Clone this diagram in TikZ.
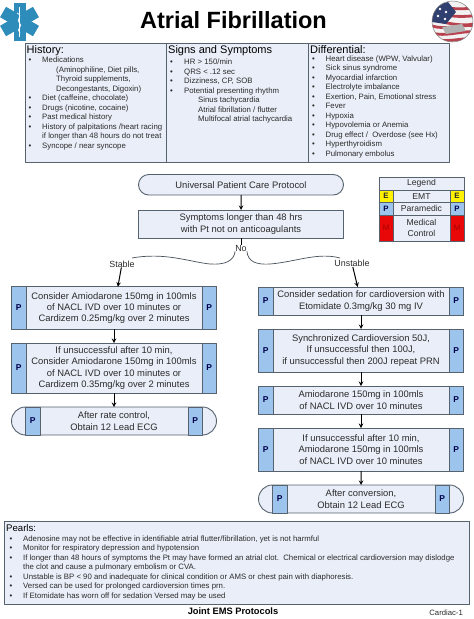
\documentclass[tikz,border=0pt]{standalone}
\usepackage{fontspec}
\setmainfont{Liberation Sans}
\usetikzlibrary{shapes.misc}
\definecolor{panelfill}{HTML}{E9EEF8}
\definecolor{pblue}{HTML}{9CC4EC}
\definecolor{edgegray}{HTML}{56626E}
\definecolor{starblue}{HTML}{2E8CBB}
\definecolor{medred}{HTML}{E80808}
\definecolor{textgray}{HTML}{2B2B2B}
\definecolor{badgered}{HTML}{B8424E}
\definecolor{badgeblue}{HTML}{2F3F70}
\newcommand{\stepfont}{\fontsize{9.4}{11.3}\selectfont}
\newcommand{\listfont}{\fontsize{7.8}{9.5}\selectfont}
\tikzset{
	stepbox/.style={draw=edgegray,line width=0.9pt,fill=panelfill,rectangle,inner sep=0pt,outer sep=0pt,align=center,font=\stepfont,text=textgray,minimum width=205pt},
	capbox/.style={stepbox,rounded rectangle},
	sidecol/.style={draw=edgegray,line width=0.9pt,fill=pblue,inner sep=0pt,outer sep=0pt,minimum width=14.5pt,font=\fontsize{8.5}{10}\selectfont\bfseries,text=black!70!blue},
	panel/.style={draw=edgegray,line width=1pt,fill=panelfill,inner sep=0pt,outer sep=0pt,anchor=north west},
	head/.style={anchor=base west,yshift=-3.4pt,inner sep=0pt,font=\fontsize{11}{12}\selectfont},
	entry/.style={anchor=base west,yshift=-2.7pt,inner sep=0pt,font=\listfont,text=textgray},
	tag/.style={inner sep=0pt,font=\fontsize{8.9}{10}\selectfont,text=textgray},
	legcell/.style={draw=edgegray,line width=0.9pt,inner sep=0pt,outer sep=0pt,anchor=north west,align=center,font=\fontsize{8.6}{11.5}\selectfont,text=textgray},
	legmark/.style={legcell,minimum width=14pt,font=\fontsize{7.8}{9}\selectfont\bfseries},
	flow/.style={->,>=stealth,line width=1pt,black},
	wave/.style={line width=0.7pt,edgegray!80!black},
}
\begin{document}
\begin{tikzpicture}[x=1pt,y=-1pt,line join=round]
\useasboundingbox (0,0) rectangle (474,619);
% star and badge
\foreach \a in {0,60,120}
	\fill[starblue,rotate around={\a:(19.5,21.5)}] (13.5,2.5) rectangle (25.5,40.5);
\draw[white,line width=0.9pt] (19.5,7) -- (19.5,37);
\draw[white,line width=0.7pt] (17,13) .. controls (24,16) and (15,20) .. (19.5,23) .. controls (24,26) and (15,29) .. (20,33);
\begin{scope}
	\clip (452.5,21.5) circle (20.5);
	\fill[white!90!gray] (432,1) rectangle (474,42);
	\foreach \y/\c in {5/18,12/22,19/30,26/-4,33/-8,39/-3}
		\draw[badgered,line width=2.8pt] (432,\y) .. controls (445,\y+4) and (460,\y+\c/4) .. (474,\y+\c/6);
	\fill[badgeblue] (434,6) -- (448,2) -- (456,12) -- (446,24) -- (432,22) -- cycle;
	\fill[white] (440,9) circle (1.3) (446,12) circle (1.3) (438,16) circle (1.3) (445,19) circle (1.3);
	\fill[gray!60] (442,27) -- (462,24) -- (466,31) -- (446,34) -- cycle;
\end{scope}
\draw[gray,line width=0.5pt] (452.5,21.5) circle (20.5);
\node[inner sep=0pt,font=\fontsize{23.5}{26}\selectfont\bfseries] (title) at (233.5,20.5) {Atrial Fibrillation};
% top panels
\node[panel,minimum width=141.5pt,minimum height=119pt] (hist) at (25,43) {};
\node[panel,minimum width=141.5pt,minimum height=119pt] (sign) at (166.5,43) {};
\node[panel,minimum width=141pt,minimum height=119pt] (diff) at (308,43) {};
\node[head] (histh) at (26.5,50.5) {History:};
\node[head] (signh) at (168,50.5) {Signs and Symptoms};
\node[head] (diffh) at (310,50.5) {Differential:};
\foreach \y/\x/\t/\b in {
	60/42/{Medications}/1,
	69.5/56/{(Aminophiline, Diet pills,}/0,
	79/56/{Thyroid supplements,}/0,
	88.5/56/{Decongestants, Digoxin)}/0,
	98/42/{Diet (caffeine, chocolate)}/1,
	107.5/42/{Drugs (nicotine, cocaine)}/1,
	117/42/{Past medical history}/1,
	126.5/42/{History of palpitations /heart racing}/1,
	136/42/{if longer than 48 hours do not treat}/0,
	145.5/42/{Syncope / near syncope}/1}{
	\node[entry] at (\x,\y) {\t};
	\ifnum\b=1 \node[entry] at (28.5,\y) {\textbullet};\fi
}
\foreach \y/\x/\t/\b in {
	62/184/{HR > 150/min}/1,
	71.5/184/{QRS < .12 sec}/1,
	81/184/{Dizziness, CP, SOB}/1,
	90.5/184/{Potential presenting rhythm}/1,
	100/198/{Sinus tachycardia}/0,
	109.5/198/{Atrial fibrillation / flutter}/0,
	119/198/{Multifocal atrial tachycardia}/0}{
	\node[entry] at (\x,\y) {\t};
	\ifnum\b=1 \node[entry] at (170,\y) {\textbullet};\fi
}
\foreach \y/\t in {
	58.5/{Heart disease (WPW, Valvular)},
	68/{Sick sinus syndrome},
	77.5/{Myocardial infarction},
	87/{Electrolyte imbalance},
	96.5/{Exertion, Pain, Emotional stress},
	106/{Fever},
	115.5/{Hypoxia},
	125/{Hypovolemia or Anemia},
	134.5/{Drug effect /\ \ Overdose (see Hx)},
	144/{Hyperthyroidism},
	153.5/{Pulmonary embolus}}{
	\node[entry] at (325.5,\y) {\t};
	\node[entry] at (312,\y) {\textbullet};
}
% legend
\node[legcell,fill=panelfill,minimum width=85pt,minimum height=13pt] (legend) at (379,177) {Legend};
\node[legcell,fill=panelfill,minimum width=85pt,minimum height=12.5pt] (emt) at (379,190) {EMT};
\node[legcell,fill=panelfill,minimum width=85pt,minimum height=12.5pt] (para) at (379,202.5) {Paramedic};
\node[legcell,fill=panelfill,minimum width=85pt,minimum height=26pt] (medc) at (379,215) {Medical\\Control};
\foreach \x/\s in {379/a,450/b}{
	\node[legmark,fill=yellow,minimum height=12.5pt] (emt-\s) at (\x,190) {E};
	\node[legmark,fill=pblue,minimum height=12.5pt,text=black!70!blue] (para-\s) at (\x,202.5) {P};
	\node[legmark,fill=medred,minimum height=26pt,font=\fontsize{7.8}{9}\selectfont,text=red!65!black] (medc-\s) at (\x,215) {M};
}
% flow top
\node[capbox,minimum height=20.5pt] (upcp) at (241,184.75) {Universal Patient Care Protocol};
\node[stepbox,minimum height=28pt] (sympt) at (241,224) {Symptoms longer than 48 hrs\\with Pt not on anticoagulants};
\node[tag] (no) at (241,248) {No};
\node[tag] (stable) at (122,264) {Stable};
\node[tag] (unstable) at (352,263.5) {Unstable};
\coordinate (stabletip) at (132,258);
\coordinate (unstabletip) at (340,258);
% left branch
\node[stepbox,minimum height=42.5pt] (amio) at (114,308) {Consider Amiodarone 150mg in 100mls\\of NACL IVD over 10 minutes or\\Cardizem 0.25mg/kg over 2 minutes};
\node[stepbox,minimum height=50pt] (amiotwo) at (114,368) {If unsuccessful after 10 min,\\Consider Amiodarone 150mg in 100mls\\of NACL IVD over 10 minutes or\\Cardizem 0.35mg/kg over 2 minutes};
\node[capbox,minimum height=28pt] (rate) at (114,421) {After rate control,\\Obtain 12 Lead ECG};
% right branch
\node[stepbox,minimum height=28pt] (sedat) at (361,301) {Consider sedation for cardioversion with\\Etomidate 0.3mg/kg 30 mg IV};
\node[stepbox,minimum height=43pt] (sync) at (361,350.5) {Synchronized Cardioversion 50J,\\If unsuccessful then 100J,\\if unsuccessful then 200J repeat PRN};
\node[stepbox,minimum height=28pt] (amiolow) at (361,400) {Amiodarone 150mg in 100mls\\of NACL IVD over 10 minutes};
\node[stepbox,minimum height=43pt] (amiorep) at (361,449.5) {If unsuccessful after 10 min,\\Amiodarone 150mg in 100mls\\of NACL IVD over 10 minutes};
\node[capbox,minimum height=28pt] (conv) at (361,499) {After conversion,\\Obtain 12 Lead ECG};
% P columns
\foreach \n/\h in {amio/42.5,amiotwo/50,sedat/28,sync/43,amiolow/28,amiorep/43}{
	\node[sidecol,minimum height=\h pt,anchor=west] (\n-l) at (\n.west) {P};
	\node[sidecol,minimum height=\h pt,anchor=east] (\n-r) at (\n.east) {P};
}
\foreach \n in {rate,conv}{
	\node[sidecol,minimum height=28pt,anchor=west] (\n-l) at ([xshift=14pt]\n.west) {P};
	\node[sidecol,minimum height=28pt,anchor=east] (\n-r) at ([xshift=-14pt]\n.east) {P};
}
% connectors
\draw[flow] (upcp) -- (sympt);
\draw[line width=0.9pt,black] (sympt) -- (no);
\draw[wave] (no.south west) .. controls (234,261) and (225,265) .. (210,264) .. controls (190,262) and (165,252) .. (stabletip);
\draw[wave] (no.south east) .. controls (248,261) and (255,265) .. (270,264) .. controls (295,262) and (318,252) .. (unstabletip);
\draw[flow] (stable) -- (amio);
\draw[flow] (unstable) -- (sedat);
\draw[flow] (amio) -- (amiotwo);
\draw[flow] (amiotwo) -- (rate);
\draw[flow] (sedat) -- (sync);
\draw[flow] (sync) -- (amiolow);
\draw[flow] (amiolow) -- (amiorep);
\draw[flow] (amiorep) -- (conv);
% pearls
\node[panel,minimum width=465pt,minimum height=83pt] (pearls) at (4,521) {};
\node[head,yshift=0.4pt,font=\fontsize{9.6}{10}\selectfont] (pearlsh) at (6,528) {Pearls:};
\foreach \y/\t/\b in {
	538.7/{Adenosine may not be effective in identifiable atrial flutter/fibrillation, yet is not harmful}/1,
	548.2/{Monitor for respiratory depression and hypotension}/1,
	557.7/{If longer than 48 hours of symptoms the Pt may have formed an atrial clot.\ \ Chemical or electrical cardioversion may dislodge}/1,
	567.2/{the clot and cause a pulmonary embolism or CVA.}/0,
	576.7/{Unstable is BP < 90 and inadequate for clinical condition or AMS or chest pain with diaphoresis.}/1,
	586.2/{Versed can be used for prolonged cardioversion times prn.}/1,
	595.7/{If Etomidate has worn off for sedation Versed may be used}/1}{
	\node[entry,font=\fontsize{7.8}{9}\selectfont] at (23,\y) {\t};
	\ifnum\b=1 \node[entry] at (9.5,\y) {\textbullet};\fi
}
\node[inner sep=0pt,font=\fontsize{9.3}{10}\selectfont\bfseries] (joint) at (233,611.5) {Joint EMS Protocols};
\node[inner sep=0pt,anchor=east,font=\fontsize{7.7}{9}\selectfont,text=textgray] (page) at (463,613) {Cardiac-1};
\end{tikzpicture}
\end{document}
